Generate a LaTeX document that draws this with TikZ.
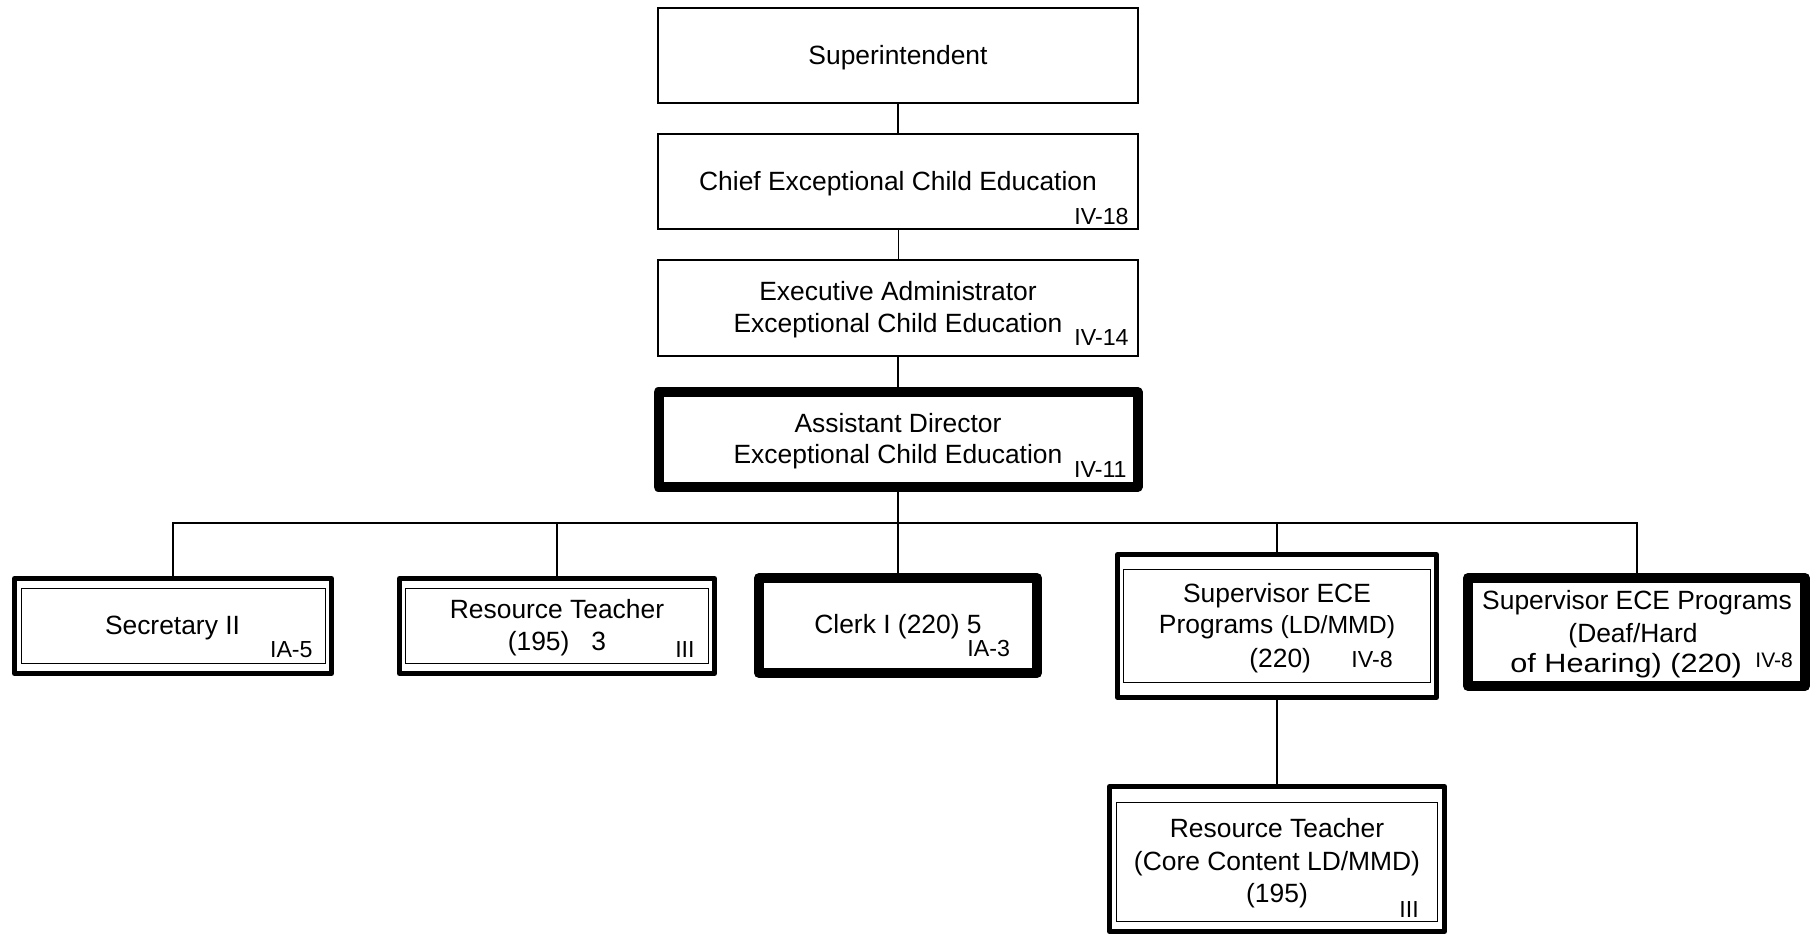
\documentclass[tikz,border=0pt]{standalone}
\usepackage{graphicx}
\usepackage{fontspec}
\setmainfont{Liberation Sans}
\newcommand\mysz{\fontsize{13.2}{15.8}\selectfont}
\newcommand\mylb{\fontsize{11.6}{13.9}\selectfont}
\newcommand\mysm{\fontsize{10.5}{12.6}\selectfont}
\begin{document}
\begin{tikzpicture}[x=0.5pt,y=-0.5pt,
  box/.style={draw, line width=1pt, inner sep=0pt, fill=white},
  thickbox/.style={draw, line width=5pt, line join=round, inner sep=0pt},
  medbox/.style={draw, line width=2.5pt, line join=round, inner sep=0pt},
  innerbox/.style={draw, line width=0.6pt, inner sep=0pt},
  txt/.style={anchor=base, inner sep=0pt, font=\mysz},
  lbl/.style={anchor=base east, inner sep=0pt, font=\mylb},
  lblw/.style={anchor=base west, inner sep=0pt, font=\mylb},
  conn/.style={line width=1pt},
  thinconn/.style={line width=0.5pt}]
\useasboundingbox[fill=white] (0,0) rectangle (1816,937);

% top chain
\node[box, minimum width=240pt, minimum height=47.5pt] (sup) at (898,55.5) {};
\node[box, minimum width=240pt, minimum height=47.5pt] (chief) at (898,181.5) {};
\node[box, minimum width=240pt, minimum height=48pt] (exec) at (898,308) {};
\node[thickbox, minimum width=239.5pt, minimum height=47.5pt] (asst) at (898,439.5) {};

\node[txt] (tsup) at (898,64) {Superintendent};
\node[txt] (tchief) at (898,190) {Chief Exceptional Child Education};
\node[lbl] (lchief) at (1129,224) {IV-18};
\node[txt] (texec1) at (898,300) {Executive Administrator};
\node[txt] (texec2) at (898,332) {Exceptional Child Education};
\node[lbl] (lexec) at (1129,345) {IV-14};
\node[txt] (tasst1) at (898,432) {Assistant Director};
\node[txt] (tasst2) at (898,463) {Exceptional Child Education};
\node[lbl] (lasst) at (1127,477) {IV-11};

% second level boxes
\node[medbox, minimum width=158.5pt, minimum height=47.5pt] (sec) at (173,626) {};
\node[innerbox, minimum width=152pt, minimum height=37.5pt] (secin) at (173.5,626) {};
\node[txt] (tsec) at (172.5,634) {Secretary II};
\node[lbl] (lsec) at (313,657) {IA-5};

\node[medbox, minimum width=157.5pt, minimum height=47.5pt] (rt) at (557,626) {};
\node[innerbox, minimum width=151.5pt, minimum height=37.5pt] (rtin) at (557,626) {};
\node[txt] (trt1) at (557,618) {Resource Teacher};
\node[txt] (trt2) at (557,650) {(195)\ \ \ 3};
\node[lbl] (lrt) at (695,657) {III};

\node[thickbox, minimum width=139pt, minimum height=47.5pt] (clerk) at (898,625.5) {};
\node[txt] (tclerk) at (898,633) {Clerk I (220) 5};
\node[lblw] (lclerk) at (967,656) {IA-3};

\node[medbox, minimum width=159.5pt, minimum height=71.5pt] (ld) at (1277,626) {};
\node[innerbox, minimum width=153.5pt, minimum height=56.5pt] (ldin) at (1277,626) {};
\node[txt] (tld1) at (1277,602) {Supervisor ECE};
\node[txt] (tld2) at (1277,633) {Programs {\fontsize{12.4}{14}\selectfont(LD/MMD)}};
\node[lblw, font=\mysz] (tld3) at (1249,667) {(220)};
\node[lblw] (lld) at (1351,667) {IV-8};

\node[thickbox, minimum width=168.5pt, minimum height=54pt] (deaf) at (1636.5,632) {};
\node[txt] (tdeaf1) at (1637,609) {Supervisor ECE Programs};
\node[txt] (tdeaf2) at (1633,642) {(Deaf/Hard};
\node[lblw, font=\mysz] (tdeaf3) at (1510,672) {\scalebox{1.16}[1]{of Hearing) (220)}};
\node[lblw, font=\mysm] (ldeaf) at (1755,667) {IV-8};

% third level
\node[medbox, minimum width=167.5pt, minimum height=72.5pt] (core) at (1277,859) {};
\node[innerbox, minimum width=160.5pt, minimum height=59.5pt] (corein) at (1277,862) {};
\node[txt] (tcore1) at (1277,837) {Resource Teacher};
\node[txt] (tcore2) at (1277,870) {(Core Content LD/MMD)};
\node[txt] (tcore3) at (1277,902) {(195)};
\node[lblw] (lcore) at (1399,917) {III};

% connectors
\coordinate (bus) at (898,523);
\draw[conn] (sup.south) -- (chief.north);
\draw[thinconn] (chief.south) -- (exec.north);
\draw[conn] (exec.south) -- (asst.north);
\draw[conn] (asst.south) -- (bus);
\draw[conn] (sec.north) |- (bus) -| (deaf.north);
\draw[conn] (rt.north) -- (rt.north |- bus);
\draw[conn] (clerk.north) -- (bus);
\draw[conn] (ld.north) -- (ld.north |- bus);
\draw[conn] (ld.south) -- (core.north);
\end{tikzpicture}
\end{document}
